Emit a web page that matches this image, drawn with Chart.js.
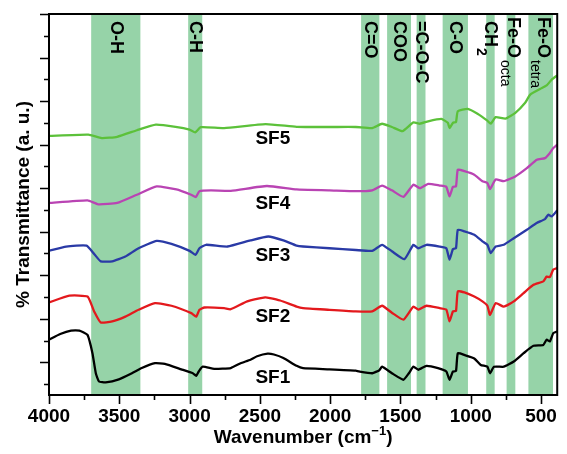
<!DOCTYPE html>
<html lang="en">
<head>
<meta charset="UTF-8">
<title>FTIR spectra SF1-SF5</title>
<style>
  html, body { margin: 0; padding: 0; background: #fff; }
  #wrap { width: 567px; height: 454px; }
</style>
</head>
<body>
<div id="wrap"><canvas id="ftir" width="567" height="454"></canvas></div>
<script src="https://cdn.jsdelivr.net/npm/chart.js"></script>
<script>
// x axis labels (wavenumber, cm-1)
const xTickLabels = [4000, 3500, 3000, 2500, 2000, 1500, 1000, 500];

// shaded absorption bands
const bandFrom = [3700, 3010, 1780, 1595, 1385, 1200, 890, 745, 590];
const bandTo = [3350, 2910, 1650, 1425, 1322, 1020, 830, 683, 415];
const bandNames = ['O-H', 'C-H', 'C=O', 'COO', '=C-O-C', 'C-O', 'CH', 'Fe-O', 'Fe-O'];
const bandSubs = ['', '', '', '', '', '', '2', 'octa', 'tetra'];

const sampleNames = ['SF1', 'SF2', 'SF3', 'SF4', 'SF5'];
const sampleColors = ['#000000', '#e3191d', '#2a3aa6', '#b944b3', '#5cc13a'];
const labelWn = 2408;
const labelT = [6.4, 20.4, 34.5, 46.4, 61.3];

// [wavenumber, % transmittance (offset, a.u.)]
const sf1 = [[4000,15.2],[3920,16.5],[3843,17.3],[3784,17.3],[3726,16.3],[3691,12.1],[3667,7.5],[3644,5.6],
  [3597,5.4],[3503,6.1],[3410,7.5],[3340,8.7],[3246,9.8],[3176,9.65],[3059,8.4],[2977,7.5],[2953,6.9],
  [2935,7.9],[2907,9.0],[2825,8.5],[2707,8.7],[2637,9.8],[2567,10.6],[2520,11.4],[2445,12.0],[2400,11.8],
  [2333,11.0],[2239,9.2],[2193,8.65],[2005,8.4],[1818,8.1],[1795,7.9],[1701,7.5],[1650,8.2],[1631,9.0],
  [1561,7.5],[1479,6.0],[1440,7.5],[1408,9.0],[1373,8.3],[1315,9.2],[1233,8.66],[1174,7.9],[1151,6.0],
  [1127,7.9],[1105,8.0],[1092,12.1],[1045,11.7],[975,10.9],[929,9.4],[882,9.0],[863,7.5],[835,9.0],
  [765,9.0],[694,10.2],[624,12.1],[554,13.8],[484,14.0],[460,15.2],[437,14.8],[413,16.7],[385,17.1]];

const sf2 = [[4000,23.75],[3855,25.3],[3726,25.1],[3679,21.7],[3632,19.15],[3550,19.4],[3457,20.5],
  [3363,22.07],[3246,23.6],[3129,23.0],[2988,21.3],[2953,20.5],[2930,22.07],[2895,22.6],[2754,22.45],
  [2708,22.2],[2590,24.0],[2462,24.9],[2438,24.8],[2356,24.2],[2239,22.8],[2193,22.45],[2005,22.07],
  [1818,21.7],[1701,21.7],[1631,23.0],[1561,21.4],[1479,19.8],[1408,22.8],[1373,22.1],[1315,23.0],
  [1221,22.45],[1174,22.1],[1151,19.4],[1127,21.7],[1105,21.8],[1092,26.3],[1045,26.05],[975,25.1],
  [917,24.0],[882,23.0],[863,20.9],[823,23.6],[765,22.8],[694,24.0],[624,25.9],[554,27.8],[484,28.6],
  [460,29.7],[437,29.6],[413,31.3],[385,31.65]];

const sf3 = [[4000,35.6],[3878,36.6],[3733,36.8],[3679,34.9],[3632,33.2],[3550,33.2],[3457,34.3],
  [3363,36.2],[3234,37.9],[3129,37.2],[3000,35.6],[2958,34.7],[2930,36.2],[2883,37.0],[2730,36.6],
  [2567,38.0],[2440,38.9],[2333,38.0],[2239,36.8],[2193,36.6],[2005,36.2],[1818,35.8],[1701,35.6],
  [1631,37.0],[1561,35.5],[1472,33.7],[1408,37.0],[1373,36.2],[1315,37.0],[1221,36.6],[1174,36.2],
  [1151,33.6],[1127,36.0],[1105,36.2],[1092,40.45],[1045,40.1],[975,39.3],[917,37.8],[882,37.0],
  [858,35.1],[823,36.6],[765,37.0],[694,38.5],[601,40.45],[531,42.0],[472,42.9],[449,43.9],[425,43.5],
  [385,44.9]];

const sf4 = [[4000,46.6],[3726,47.2],[3650,46.3],[3515,46.6],[3375,48.5],[3234,50.4],[3094,49.7],
  [2989,48.5],[2955,47.97],[2930,49.3],[2848,49.5],[2707,49.4],[2450,50.5],[2239,49.7],[2005,49.5],
  [1818,49.3],[1701,49.5],[1631,50.6],[1561,49.5],[1479,48.0],[1408,50.8],[1362,50.0],[1303,51.0],
  [1221,50.6],[1174,50.3],[1151,48.1],[1127,50.3],[1105,50.4],[1092,54.25],[1045,53.9],[975,53.1],
  [917,51.6],[882,51.2],[863,49.8],[823,52.0],[765,51.6],[683,52.7],[601,54.6],[530,56.55],[472,56.9],
  [437,58.1],[413,59.2],[385,60.0]];

const sf5 = [[4000,62.0],[3720,62.3],[3625,61.5],[3515,61.8],[3375,63.3],[3240,64.6],[3100,64.1],
  [3000,63.45],[2960,62.8],[2920,64.0],[2754,63.8],[2460,64.7],[2239,64.1],[2005,64.05],[1818,64.05],
  [1701,63.8],[1631,64.8],[1561,64.05],[1486,63.1],[1408,65.1],[1362,64.8],[1303,65.36],[1209,65.9],
  [1163,65.0],[1151,63.8],[1127,65.0],[1105,65.2],[1092,67.66],[1022,68.2],[952,67.1],[882,65.5],
  [858,64.8],[823,66.3],[753,66.0],[683,67.3],[613,69.6],[577,71.5],[507,72.8],[460,73.6],[425,74.9],
  [385,75.9]];

const series = [sf1, sf2, sf3, sf4, sf5];

const FONT = 'Arial, "Liberation Sans", sans-serif';

// green bands behind the spectra
const bandPlugin = {
  id: 'bands',
  beforeDatasetsDraw(chart) {
    const { ctx, chartArea: a, scales: { x } } = chart;
    ctx.save();
    ctx.fillStyle = 'rgb(150, 211, 168)';
    bandFrom.forEach((f, i) => {
      const x1 = x.getPixelForValue(f);
      const x2 = x.getPixelForValue(bandTo[i]);
      ctx.fillRect(x1, a.top, x2 - x1, a.bottom - a.top);
    });
    ctx.restore();
  }
};

// frame, tick marks, labels and axis titles
const decorPlugin = {
  id: 'decor',
  afterDraw(chart) {
    const { ctx, chartArea: a, scales: { x, y } } = chart;
    ctx.save();
    ctx.strokeStyle = '#000';
    ctx.lineWidth = 2;
    ctx.strokeRect(a.left, a.top, a.right - a.left, a.bottom - a.top);

    // y ticks, major every 10, minor every 5
    ctx.lineWidth = 1.6;
    ctx.beginPath();
    for (let v = 5; v <= 90; v += 5) {
      const py = Math.round(y.getPixelForValue(v)) + 0.5;
      const len = v % 10 === 0 ? 9 : 5;
      ctx.moveTo(a.left - len, py);
      ctx.lineTo(a.left, py);
    }
    // x ticks, major every 500, minor every 250
    for (let w = 500; w <= 4000; w += 250) {
      const px = Math.round(x.getPixelForValue(w)) + 0.5;
      const len = w % 500 === 0 ? 9 : 5;
      ctx.moveTo(px, a.bottom);
      ctx.lineTo(px, a.bottom + len);
    }
    ctx.stroke();

    // band labels, rotated
    ctx.fillStyle = '#000';
    bandNames.forEach((name, i) => {
      const cx = (x.getPixelForValue(bandFrom[i]) + x.getPixelForValue(bandTo[i])) / 2;
      const hasSub = bandSubs[i] !== '';
      ctx.save();
      ctx.translate(cx + (hasSub && bandSubs[i] !== '2' ? 2 : 0), a.top + (name === 'Fe-O' ? 3 : 7));
      ctx.rotate(Math.PI / 2);
      ctx.font = 'bold 18px ' + FONT;
      ctx.textAlign = 'left';
      ctx.textBaseline = 'middle';
      ctx.fillText(name, 0, 0);
      if (hasSub) {
        const w = ctx.measureText(name).width;
        if (bandSubs[i] === '2') {
          ctx.font = 'bold 14px ' + FONT;
          ctx.fillText('2', w + 1, 10);
        } else {
          ctx.font = '14px ' + FONT;
          ctx.fillText(bandSubs[i], w + 2, 8);
        }
      }
      ctx.restore();
    });

    // sample names
    ctx.font = 'bold 19px ' + FONT;
    ctx.textAlign = 'center';
    ctx.textBaseline = 'middle';
    sampleNames.forEach((n, i) => {
      ctx.fillText(n, x.getPixelForValue(labelWn), y.getPixelForValue(labelT[i]));
    });

    // x title with superscript
    const cx = (a.left + a.right) / 2;
    const ty = 438;
    ctx.textAlign = 'left';
    ctx.textBaseline = 'middle';
    const t1 = 'Wavenumber (cm', sup = '\u22121', t2 = ')';
    ctx.font = 'bold 19px ' + FONT;
    const w1 = ctx.measureText(t1).width, w3 = ctx.measureText(t2).width;
    ctx.font = 'bold 13px ' + FONT;
    const w2 = ctx.measureText(sup).width;
    let sx = cx - (w1 + w2 + w3) / 2;
    ctx.font = 'bold 19px ' + FONT;
    ctx.fillText(t1, sx, ty);
    ctx.font = 'bold 13px ' + FONT;
    ctx.fillText(sup, sx + w1, ty - 7);
    ctx.font = 'bold 19px ' + FONT;
    ctx.fillText(t2, sx + w1 + w2, ty);

    // y title
    ctx.save();
    ctx.translate(24, (a.top + a.bottom) / 2);
    ctx.rotate(-Math.PI / 2);
    ctx.textAlign = 'center';
    ctx.fillText('% Transmittance (a. u.)', 0, 0);
    ctx.restore();

    ctx.restore();
  }
};

new Chart(document.getElementById('ftir'), {
  type: 'scatter',
  data: {
    datasets: series.map((s, i) => ({
      label: sampleNames[i],
      data: s.map(([wn, t]) => ({ x: wn, y: t })),
      showLine: true,
      borderColor: sampleColors[i],
      borderWidth: 2.3,
      pointRadius: 0,
      tension: 0.15
    }))
  },
  options: {
    responsive: false,
    devicePixelRatio: 1,
    animation: false,
    layout: { padding: { top: 14, right: 3, left: 0, bottom: 0 } },
    plugins: { legend: { display: false }, tooltip: { enabled: false } },
    scales: {
      x: {
        type: 'linear',
        reverse: true,
        min: 385,
        max: 4000,
        afterBuildTicks: s => { s.ticks = xTickLabels.map(v => ({ value: v })); },
        afterFit: s => { s.height = 59; },
        grid: { display: false, drawTicks: false },
        border: { display: false },
        ticks: {
          autoSkip: false,
          maxRotation: 0,
          padding: 10,
          color: '#000',
          font: { family: FONT, size: 19, weight: 'bold' },
          callback: v => v
        }
      },
      y: {
        type: 'linear',
        min: 2.5,
        max: 90,
        afterFit: s => { s.width = 49; },
        grid: { display: false, drawTicks: false },
        border: { display: false },
        ticks: { display: false }
      }
    }
  },
  plugins: [bandPlugin, decorPlugin]
});
</script>
</body>
</html>
